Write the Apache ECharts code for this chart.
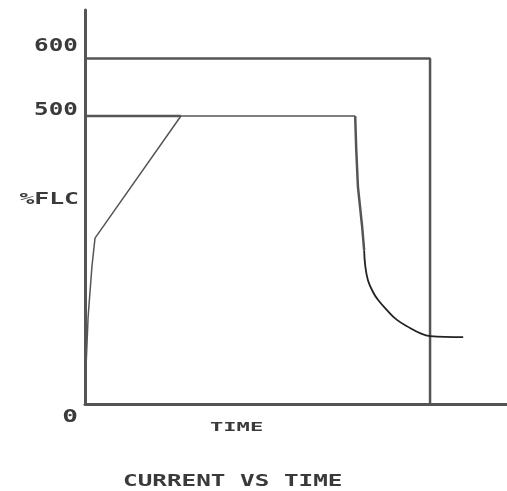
<!DOCTYPE html>
<html>
<head>
<meta charset="utf-8">
<script src="https://cdn.jsdelivr.net/npm/echarts@6/dist/echarts.min.js"></script>
<style>html,body{margin:0;padding:0;background:#fff;}#c{width:507px;height:491px;}</style>
</head>
<body>
<div id="c"></div>
<script>
// Values in %FLC (y) and arbitrary time units (x)
const yTickValues = [0, 500, 600];
const yTickLabels = ['0', '500', '600'];
const boundaryLine = [[0, 600], [100, 600], [100, 0]];
const limitLine = [[0, 500], [27.8, 500]];
const rampCurve = [[0.3, 21], [0.3, 64], [0.9, 151], [2.0, 238], [2.9, 288], [27.8, 500], [78.3, 500]];
const dropCurve = [[78.3, 500], [78.6, 443], [79.1, 377], [80.3, 309], [80.9, 267]];
const decayCurve = [[80.9, 267], [81.2, 241], [82.0, 215],
  [83.5, 194], [84.9, 181], [87.5, 163], [90.4, 146], [94.2, 132], [97.1, 123], [100, 118], [109.6, 116]];
const yAxisName = '%FLC';
const xAxisName = 'TIME';
const chartTitle = 'CURRENT VS TIME';

const chart = echarts.init(document.getElementById('c'));
const lineCol = '#555';
const txtCol = '#3a3a3a';
const fontFam = 'DejaVu Sans Mono';

function txt(text, x, y, size, sx, align) {
  return {
    type: 'text', x: x, y: y, scaleX: sx, silent: true,
    style: { text: text, fill: txtCol, font: 'bold ' + size + 'px "' + fontFam + '"', align: align, verticalAlign: 'middle' }
  };
}

chart.setOption({
  animation: false,
  backgroundColor: '#fff',
  grid: { left: 85, right: 0, top: 10, bottom: 87 },
  xAxis: {
    type: 'value', min: 0, max: 122.3,
    axisLine: { show: true, onZero: false, lineStyle: { color: lineCol, width: 3 } },
    axisTick: { show: false }, axisLabel: { show: false }, splitLine: { show: false }
  },
  yAxis: {
    type: 'value', min: 0, max: 684,
    axisLine: { show: true, lineStyle: { color: lineCol, width: 3 } },
    axisTick: { show: false }, axisLabel: { show: false }, splitLine: { show: false }
  },
  graphic: [
    txt(yTickLabels[2], 78, 46, 18, 1.35, 'right'),
    txt(yTickLabels[1], 78, 110, 18, 1.35, 'right'),
    txt(yTickLabels[0], 78, 417, 18, 1.45, 'right'),
    txt(yAxisName, 79, 200, 15, 1.65, 'right'),
    txt(xAxisName, 210, 428, 13, 1.7, 'left'),
    txt(chartTitle, 123, 482, 15, 1.62, 'left')
  ],
  series: [
    { type: 'line', data: boundaryLine, symbol: 'none', lineStyle: { color: lineCol, width: 2.5 } },
    { type: 'line', data: limitLine, symbol: 'none', lineStyle: { color: lineCol, width: 2.5 } },
    { type: 'line', data: rampCurve, symbol: 'none', lineStyle: { color: lineCol, width: 1.5 } },
    { type: 'line', data: dropCurve, symbol: 'none', lineStyle: { color: lineCol, width: 2.5 } },
    { type: 'line', data: decayCurve, symbol: 'none', smooth: 0.4, lineStyle: { color: '#222', width: 1.8 } }
  ]
});
</script>
</body>
</html>
